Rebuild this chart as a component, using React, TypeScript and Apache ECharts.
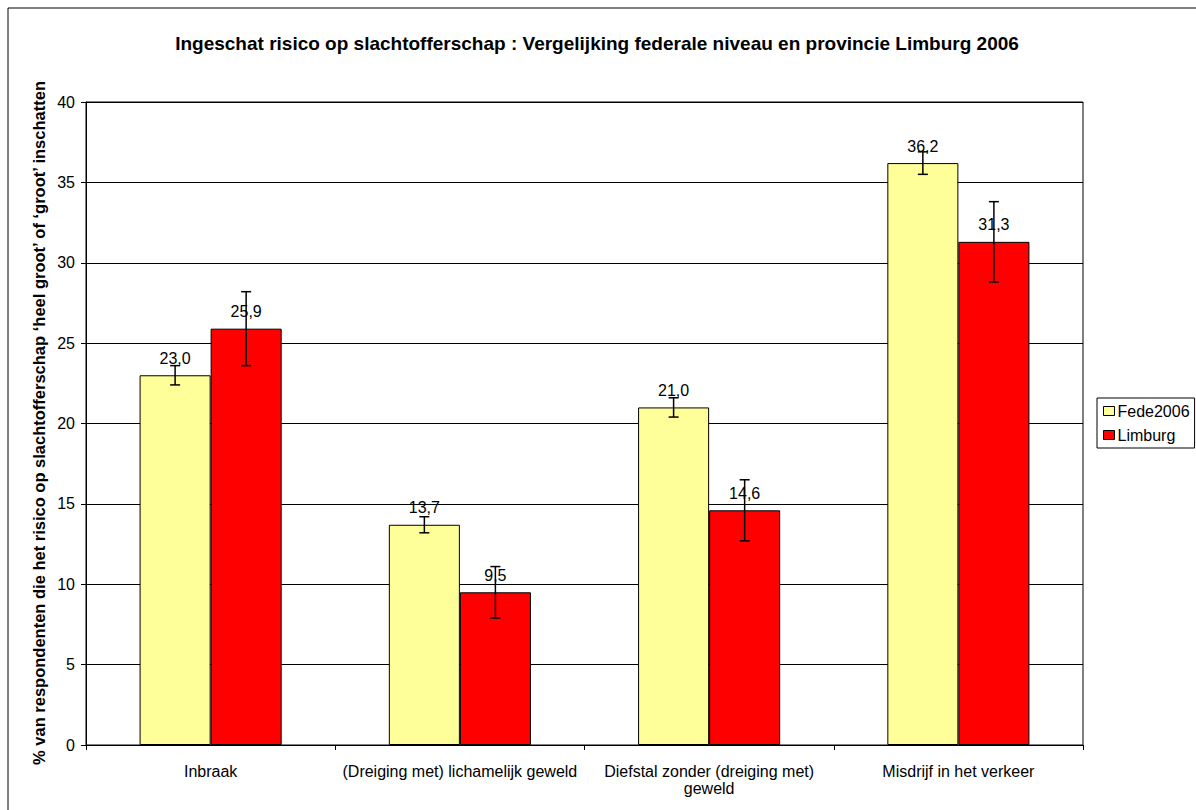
import React, { useEffect, useRef } from "react";
import * as echarts from "echarts";

const categories = [
  "Inbraak",
  "(Dreiging met) lichamelijk geweld",
  "Diefstal zonder (dreiging met)\ngeweld",
  "Misdrijf in het verkeer",
];
const fedeValues = [23.0, 13.7, 21.0, 36.2];
const fedeErrors = [0.6, 0.5, 0.6, 0.7];
const limburgValues = [25.9, 9.5, 14.6, 31.3];
const limburgErrors = [2.3, 1.6, 1.9, 2.5];
const seriesNames = ["Fede2006", "Limburg"];
const titleText =
  "Ingeschat risico op slachtofferschap : Vergelijking federale niveau en provincie Limburg 2006";
const yAxisTitle =
  "% van respondenten die het risico op slachtofferschap \u2018heel groot\u2019 of \u2018groot\u2019 inschatten";

const FONT = "Liberation Sans, Arial, sans-serif";

export default function App() {
  const ref = useRef<HTMLDivElement>(null);
  useEffect(() => {
    if (!ref.current) return;
    const chart = echarts.init(ref.current, null, { renderer: "svg" });
    const fmt = (p: any) => Number(p.value).toFixed(1).replace(".", ",");
    const errData = (vals: number[], errs: number[], off: number) =>
      vals.map((v, i) => [i, v, v - errs[i], v + errs[i], off]);
    const renderErr = (params: any, api: any) => {
      const idx = api.value(0);
      const lo = api.value(2);
      const hi = api.value(3);
      const off = api.value(4);
      const bandW = api.size([1, 0])[0];
      const pLo = api.coord([idx, lo]);
      const pHi = api.coord([idx, hi]);
      const x = pLo[0] + off * bandW * 0.1425;
      const cap = 5;
      const style = { stroke: "#000", lineWidth: 1.5 };
      return {
        type: "group",
        children: [
          { type: "line", shape: { x1: x, y1: pLo[1], x2: x, y2: pHi[1] }, style },
          { type: "line", shape: { x1: x - cap, y1: pHi[1], x2: x + cap, y2: pHi[1] }, style },
          { type: "line", shape: { x1: x - cap, y1: pLo[1], x2: x + cap, y2: pLo[1] }, style },
        ],
      };
    };
    const labelCfg = {
      show: true,
      position: "top",
      distance: 9,
      formatter: fmt,
      color: "#000",
      fontSize: 16,
      fontFamily: FONT,
    };
    chart.setOption({
      animation: false,
      textStyle: { fontFamily: FONT },
      backgroundColor: "#fff",
      graphic: [
        {
          type: "rect",
          shape: { x: 8, y: 8, width: 1220, height: 840 },
          style: { fill: "none", stroke: "#000", lineWidth: 1 },
          silent: true,
        },
        {
          type: "text",
          x: 597,
          y: 43,
          style: {
            text: titleText,
            fontSize: 19,
            fontWeight: "bold",
            fontFamily: FONT,
            fill: "#000",
            align: "center",
            verticalAlign: "middle",
          },
        },
        {
          type: "text",
          x: 39,
          y: 423,
          rotation: Math.PI / 2,
          style: {
            text: yAxisTitle,
            fontSize: 16.5,
            fontWeight: "bold",
            fontFamily: FONT,
            fill: "#000",
            align: "center",
            verticalAlign: "middle",
          },
        },
      ],
      legend: {
        orient: "vertical",
        left: 1097,
        top: 398,
        data: seriesNames,
        borderColor: "#000",
        borderWidth: 1,
        borderRadius: 0,
        padding: [5, 5, 5, 6],
        itemGap: 8,
        itemWidth: 11,
        itemHeight: 9,
        icon: "rect",
        itemStyle: { borderColor: "#000", borderWidth: 1 },
        textStyle: { fontSize: 16, color: "#000", fontFamily: FONT, padding: [0, 0, 0, -2] },
      },
      grid: {
        left: 86,
        top: 102,
        width: 997,
        height: 643,
        show: true,
        borderColor: "#000",
        borderWidth: 1,
        backgroundColor: "transparent",
      },
      xAxis: {
        type: "category",
        data: categories,
        axisLine: { lineStyle: { color: "#000", width: 1 } },
        axisTick: { show: true, alignWithLabel: false, length: 5, lineStyle: { color: "#000" } },
        axisLabel: { color: "#000", fontSize: 16, fontFamily: FONT, margin: 18, lineHeight: 17, interval: 0 },
      },
      yAxis: {
        type: "value",
        min: 0,
        max: 40,
        interval: 5,
        axisLine: { show: true, lineStyle: { color: "#000", width: 1 } },
        axisTick: { show: true, length: 5, lineStyle: { color: "#000" } },
        axisLabel: { color: "#000", fontSize: 16, fontFamily: FONT, margin: 11 },
        splitLine: { show: true, lineStyle: { color: "#000", width: 1 } },
      },
      series: [
        {
          name: seriesNames[0],
          type: "bar",
          data: fedeValues,
          barGap: "0%",
          barCategoryGap: "43%",
          itemStyle: { color: "#FFFF99", borderColor: "#000", borderWidth: 1 },
          label: labelCfg,
        },
        {
          name: seriesNames[1],
          type: "bar",
          data: limburgValues,
          barGap: "0%",
          barCategoryGap: "43%",
          itemStyle: { color: "#FF0000", borderColor: "#000", borderWidth: 1 },
          label: labelCfg,
        },
        {
          type: "custom",
          renderItem: renderErr,
          data: errData(fedeValues, fedeErrors, -1),
          encode: { x: 0, y: [2, 3] },
          z: 5,
          silent: true,
        },
        {
          type: "custom",
          renderItem: renderErr,
          data: errData(limburgValues, limburgErrors, 1),
          encode: { x: 0, y: [2, 3] },
          z: 5,
          silent: true,
        },
      ],
    });
    return () => chart.dispose();
  }, []);
  return (
    <div
      ref={ref}
      style={{ position: "absolute", left: 0, top: 0, width: 1196, height: 810 }}
    />
  );
}
